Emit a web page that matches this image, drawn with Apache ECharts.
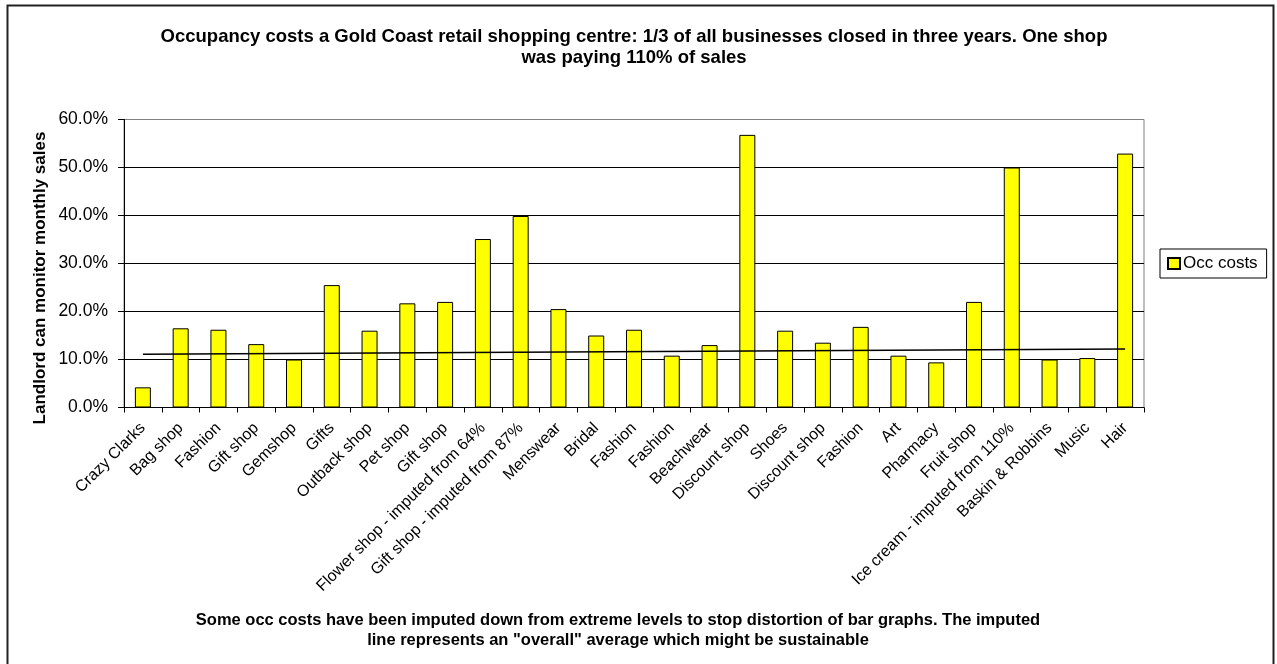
<!DOCTYPE html>
<html>
<head>
<meta charset="utf-8">
<script src="https://cdn.jsdelivr.net/npm/echarts@6/dist/echarts.min.js"></script>
<style>
  html, body { margin: 0; padding: 0; background: #fff; }
  #chart { width: 1277px; height: 664px; }
</style>
</head>
<body>
<div id="chart"></div>
<script>
const shops = [
  'Crazy Clarks', 'Bag shop', 'Fashion', 'Gift shop', 'Gemshop', 'Gifts',
  'Outback shop', 'Pet shop', 'Gift shop', 'Flower shop - imputed from 64%',
  'Gift shop - imputed from 87%', 'Menswear', 'Bridal', 'Fashion', 'Fashion',
  'Beachwear', 'Discount shop', 'Shoes', 'Discount shop', 'Fashion', 'Art',
  'Pharmacy', 'Fruit shop', 'Ice cream - imputed from 110%', 'Baskin & Robbins',
  'Music', 'Hair'
];
const occCosts = [
  4.2, 16.5, 16.2, 13.2, 10.0, 25.5, 16.0, 21.7, 22.0, 35.1,
  39.9, 20.5, 15.0, 16.2, 10.8, 13.0, 56.8, 16.0, 13.5, 16.8, 10.8,
  9.4, 22.0, 50.0, 10.0, 10.3, 52.9
];
// "overall" average line, first and last shop
const avgLine = [[0, 11.1], [26, 12.2]];
const yTicks = [0, 10, 20, 30, 40, 50, 60];

const font = 'Liberation Sans, Arial, sans-serif';
const chart = echarts.init(document.getElementById('chart'));

chart.setOption({
  animation: false,
  textStyle: { fontFamily: font, color: '#000' },
  title: [{
    text: 'Occupancy costs a Gold Coast retail shopping centre: 1/3 of all businesses closed in three years. One shop\nwas paying 110% of sales',
    left: 629, top: 21, textAlign: 'center',
    textStyle: { fontFamily: font, fontSize: 18.5, fontWeight: 'bold', lineHeight: 21, color: '#000' }
  }, {
    text: 'Some occ costs have been imputed down from extreme levels to stop distortion of bar graphs. The imputed\nline represents an "overall" average which might be sustainable',
    left: 613, top: 605, textAlign: 'center',
    textStyle: { fontFamily: font, fontSize: 16.5, fontWeight: 'bold', lineHeight: 20, color: '#000' }
  }],
  legend: {
    data: [{ name: 'Occ costs', icon: 'rect' }],
    left: 1160, top: 249,
    orient: 'vertical',
    padding: [6, 9, 6, 7],
    borderColor: '#000', borderWidth: 1,
    itemWidth: 12, itemHeight: 11, itemGap: 4,
    textStyle: { fontFamily: font, fontSize: 17, color: '#000', padding: [0, 0, 0, -2] }
  },
  grid: {
    left: 124, top: 119.5, right: 133, bottom: 256.5,
    show: true, borderColor: '#808080', borderWidth: 1
  },
  xAxis: {
    type: 'category',
    data: shops,
    axisLine: { lineStyle: { color: '#000', width: 1 } },
    axisTick: { show: true, length: 5, inside: false, lineStyle: { color: '#000' } },
    axisLabel: { rotate: 45, interval: 0, fontSize: 16, color: '#000', margin: 18 }
  },
  yAxis: {
    type: 'value',
    min: 0, max: 60, interval: 10,
    axisLine: { show: true, lineStyle: { color: '#000' } },
    axisTick: { show: true, length: 6, lineStyle: { color: '#000' } },
    axisLabel: {
      fontSize: 17.5, color: '#000', margin: 16,
      formatter: v => yTicks.includes(v) ? v.toFixed(1) + '%' : ''
    },
    splitLine: { showMaxLine: false, lineStyle: { color: '#000', width: 1 } }
  },
  series: [{
    name: 'Occ costs',
    type: 'bar',
    data: occCosts,
    barWidth: 16,
    itemStyle: { color: '#ffff00', borderColor: '#000', borderWidth: 1 }
  }, {
    name: 'Average',
    type: 'line',
    data: avgLine,
    showSymbol: false,
    symbol: 'none',
    lineStyle: { color: '#000', width: 1.5 },
    z: 5
  }],
  graphic: [{
    type: 'rect',
    shape: { x: 7.5, y: 5.5, width: 1266, height: 700 },
    style: { fill: 'none', stroke: '#222', lineWidth: 2 },
    silent: true
  }, {
    type: 'text',
    x: 40, y: 278, rotation: Math.PI / 2,
    style: {
      text: 'Landlord can monitor monthly sales',
      font: 'bold 17px Liberation Sans, Arial, sans-serif',
      fill: '#000', align: 'center', verticalAlign: 'middle'
    },
    silent: true
  }]
});
</script>
</body>
</html>
